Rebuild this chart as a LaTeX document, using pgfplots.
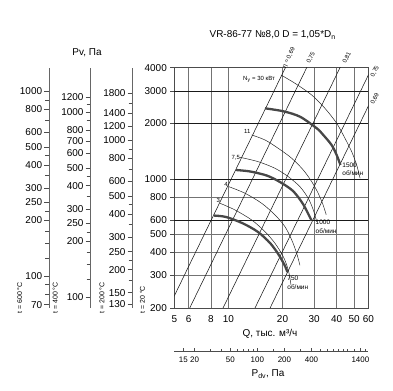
\documentclass[border=0pt]{standalone}
\usepackage{pgfplots}
\pgfplotsset{compat=1.18}
\usepackage{fontspec}
\setmainfont{Liberation Sans}
\begin{document}
\begin{tikzpicture}
\useasboundingbox (0,0) rectangle (393bp,391bp);
% t = 600 C
\begin{axis}[at={(49.3bp,83bp)}, anchor=south west, scale only axis, width=10bp, height=240.3bp,
  ymode=log, xmin=0, xmax=1, hide x axis, axis y line*=left,
  axis line style={black!60, line width=0.6bp},
  tick align=outside, major tick length=5bp, minor tick length=4bp,
  every tick/.style={black!70, line width=0.5bp},
  yticklabel style={font=\fontsize{10}{12}\selectfont, inner sep=2bp},
  /pgf/number format/assume math mode=true,
  ymin=67.12, ymax=1342.5,
  ytick={70,100,200,250,300,400,500,600,800,1000},
  yticklabels={70,100,200,250,300,400,500,600,800,1000},
  minor ytick={80,90,125,150,175,225,350,450,700,900}]
\end{axis}
% t = 400 C
\begin{axis}[at={(90.7bp,83bp)}, anchor=south west, scale only axis, width=10bp, height=240.3bp,
  ymode=log, xmin=0, xmax=1, hide x axis, axis y line*=left,
  axis line style={black!60, line width=0.6bp},
  tick align=outside, major tick length=5bp, minor tick length=4bp,
  every tick/.style={black!70, line width=0.5bp},
  yticklabel style={font=\fontsize{10}{12}\selectfont, inner sep=2bp},
  /pgf/number format/assume math mode=true,
  ymin=87.07, ymax=1741.5,
  ytick={100,200,250,300,400,500,600,700,800,1000,1200},
  yticklabels={100,200,250,300,400,500,600,700,800,1000,1200},
  minor ytick={125,150,175,225,350,450,900,1100}]
\end{axis}
% t = 200 C
\begin{axis}[at={(132.7bp,83bp)}, anchor=south west, scale only axis, width=10bp, height=240.3bp,
  ymode=log, xmin=0, xmax=1, hide x axis, axis y line*=left,
  axis line style={black!60, line width=0.6bp},
  tick align=outside, major tick length=5bp, minor tick length=4bp,
  every tick/.style={black!70, line width=0.5bp},
  yticklabel style={font=\fontsize{10}{12}\selectfont, inner sep=2bp},
  /pgf/number format/assume math mode=true,
  ymin=123.89, ymax=2477.8,
  ytick={130,150,200,250,300,400,500,600,800,1000,1200,1400,1800},
  yticklabels={130,150,200,250,300,400,500,600,800,1000,1200,1400,1800},
  minor ytick={175,225,350,450,700,900,1600}]
\end{axis}
% main axis (t = 20 C)
\begin{axis}[at={(174.3bp,83bp)}, anchor=south west, scale only axis,
  width=194bp, height=240.3bp,
  xmode=log, ymode=log, xmin=5, xmax=60, ymin=200, ymax=4000,
  xtick={5,6,8,10,20,30,40,50,60}, xticklabels={5,6,8,10,20,30,40,50,60},
  ytick={200,300,400,500,600,800,1000,2000,3000,4000},
  yticklabels={200,300,400,500,600,800,1000,2000,3000,4000},
  ytick pos=left, xtick style={draw=none},
  tick align=outside, major tick length=4bp,
  every tick/.style={black!70, line width=0.5bp},
  grid=major, major grid style={black!55, line width=0.5bp},
  extra y ticks={600,1000,2000,3000}, extra y tick labels={},
  extra y tick style={grid=major, major grid style={black!90, line width=0.5bp}, major tick length=0pt},
  axis line style={black!70, line width=0.6bp},
  tick label style={font=\fontsize{10}{12}\selectfont},
  /pgf/number format/assume math mode=true,
  clip=true]
% efficiency lines
\addplot[black!90, line width=0.55bp] coordinates {(3,83.7) (80,59520)};
\addplot[black!90, line width=0.55bp] coordinates {(3,48.5) (80,34496)};
\addplot[black!90, line width=0.55bp] coordinates {(3,20.65) (80,14682)};
\addplot[black!90, line width=0.55bp] coordinates {(8,64.8) (80,6477)};
\addplot[black!90, line width=0.55bp] coordinates {(8,44.0) (80,4403)};
% thin power curves
\addplot[black!85, line width=0.5bp, smooth, tension=0.5] coordinates {(19.61,3652) (23.46,3293) (29.06,2846) (34.44,2410) (40.02,2000) (44.5,1659) (48.5,1404) (51.7,1189) (54.0,1008)};
\addplot[black!85, line width=0.5bp, smooth, tension=0.5] coordinates {(13.48,1729) (15.97,1625) (18.93,1464) (22.5,1293) (26.1,1117) (29.06,966) (31.5,840) (33.5,730) (35.0,640)};
\addplot[black!85, line width=0.5bp, smooth, tension=0.5] coordinates {(11.6,1309) (14.66,1239) (18.16,1141) (21.53,1028) (25.0,907) (27.8,785) (29.66,679) (31.0,586)};
\addplot[black!85, line width=0.5bp, smooth, tension=0.5] coordinates {(10.07,907) (12.37,836) (15.31,738) (18.16,638) (20.64,551) (22.5,467) (23.97,396) (25.0,340)};
\addplot[black!85, line width=0.5bp, smooth, tension=0.5] coordinates {(8.98,738) (10.88,679) (13.48,599) (15.97,518) (18.16,448) (20.2,379) (21.53,321) (22.3,266)};
% thick fan curves
\addplot[black!72, line width=2.3bp, smooth, tension=0.5] coordinates {(15.97,2410) (20.2,2323) (25.0,2172) (31.0,1879) (33.7,1729) (37.5,1526) (40.0,1347) (42.0,1189)};
\addplot[black!72, line width=2.3bp, smooth, tension=0.5] coordinates {(11.02,1117) (13.18,1097) (16.33,1043) (19.35,962) (22.87,860) (26.0,731) (29.0,595)};
\addplot[black!72, line width=2.3bp, smooth, tension=0.5] coordinates {(8.31,633) (9.70,622) (12.05,574) (14.6,516) (17.03,450) (18.93,392) (20.64,338) (21.26,313)};
\end{axis}
% Pdv scale
\begin{axis}[at={(174.3bp,39.3bp)}, anchor=south west, scale only axis,
  width=194bp, height=5bp, xmode=log, xmin=11.9, xmax=1714, ymin=0, ymax=1,
  hide y axis, axis x line*=bottom,
  axis line style={black!70, line width=0.6bp},
  tick align=inside, major tick length=3.5bp, minor tick length=3bp,
  every tick/.style={black!70, line width=0.5bp},
  xtick={15,20,50,100,200,400,1400}, xticklabels={15,20,50,100,200,400,1400},
  minor xtick={30,40,60,70,80,90,150,300,500,600,700,800,900,1000,1200,1600},
  xticklabel style={font=\fontsize{8}{10}\selectfont, yshift=-2bp},
  /pgf/number format/assume math mode=true]
\end{axis}
% texts
\node[font=\fontsize{10}{12}\selectfont] at (272.7bp,356bp) {VR-86-77 №8,0 D = 1,05*D\textsubscript{n}};
\node[font=\fontsize{10}{12}\selectfont] at (87bp,338bp) {Pv, Па};
\node[font=\fontsize{10}{12}\selectfont] at (270bp,57bp) {Q, тыс. м³/ч};
\node[font=\fontsize{10}{12}\selectfont] at (268bp,17bp) {P\textsubscript{dv}, Па};
\node[font=\fontsize{7}{8}\selectfont, rotate=90, anchor=west] at (19.7bp,74bp) {t = 600 °C};
\node[font=\fontsize{7}{8}\selectfont, rotate=90, anchor=west] at (55.3bp,74bp) {t = 400 °C};
\node[font=\fontsize{7}{8}\selectfont, rotate=90, anchor=west] at (102bp,74bp) {t = 200 °C};
\node[font=\fontsize{7}{8}\selectfont, rotate=90, anchor=west] at (142.5bp,74bp) {t = 20 °C};
% efficiency labels
\node[font=\fontsize{6}{7}\selectfont, rotate=64, inner sep=0.5bp] at (289bp,333bp) {η = 0,69};
\node[font=\fontsize{6}{7}\selectfont, rotate=64, inner sep=0.5bp] at (311bp,333bp) {0,75};
\node[font=\fontsize{6}{7}\selectfont, rotate=64, inner sep=0.5bp] at (347bp,333bp) {0,81};
\node[font=\fontsize{6}{7}\selectfont, rotate=64, inner sep=0.5bp] at (375bp,319.5bp) {0,75};
\node[font=\fontsize{6}{7}\selectfont, rotate=64, inner sep=0.5bp] at (375bp,292bp) {0,69};
% power labels
\node[font=\fontsize{6}{7}\selectfont] at (259bp,312bp) {N\textsubscript{у} = 30 кВт};
\node[font=\fontsize{6}{7}\selectfont] at (247.3bp,260bp) {11};
\node[font=\fontsize{6}{7}\selectfont] at (235.7bp,232.7bp) {7,5};
\node[font=\fontsize{6}{7}\selectfont] at (226bp,206.7bp) {4};
\node[font=\fontsize{6}{7}\selectfont] at (218.3bp,191bp) {3};
% speed labels
\node[font=\fontsize{6.5}{7.5}\selectfont, anchor=west, inner sep=0.5bp] at (341.7bp,226bp) {1500};
\node[font=\fontsize{6.5}{7.5}\selectfont, anchor=west, inner sep=0.5bp] at (341.7bp,217.7bp) {об/мин};
\node[font=\fontsize{6.5}{7.5}\selectfont, anchor=west, inner sep=0.5bp] at (315bp,168.3bp) {1000};
\node[font=\fontsize{6.5}{7.5}\selectfont, anchor=west, inner sep=0.5bp] at (315bp,160bp) {об/мин};
\node[font=\fontsize{6.5}{7.5}\selectfont, anchor=west, inner sep=0.5bp] at (286.7bp,112.7bp) {750};
\node[font=\fontsize{6.5}{7.5}\selectfont, anchor=west, inner sep=0.5bp] at (286.7bp,104.3bp) {об/мин};
\end{tikzpicture}
\end{document}
